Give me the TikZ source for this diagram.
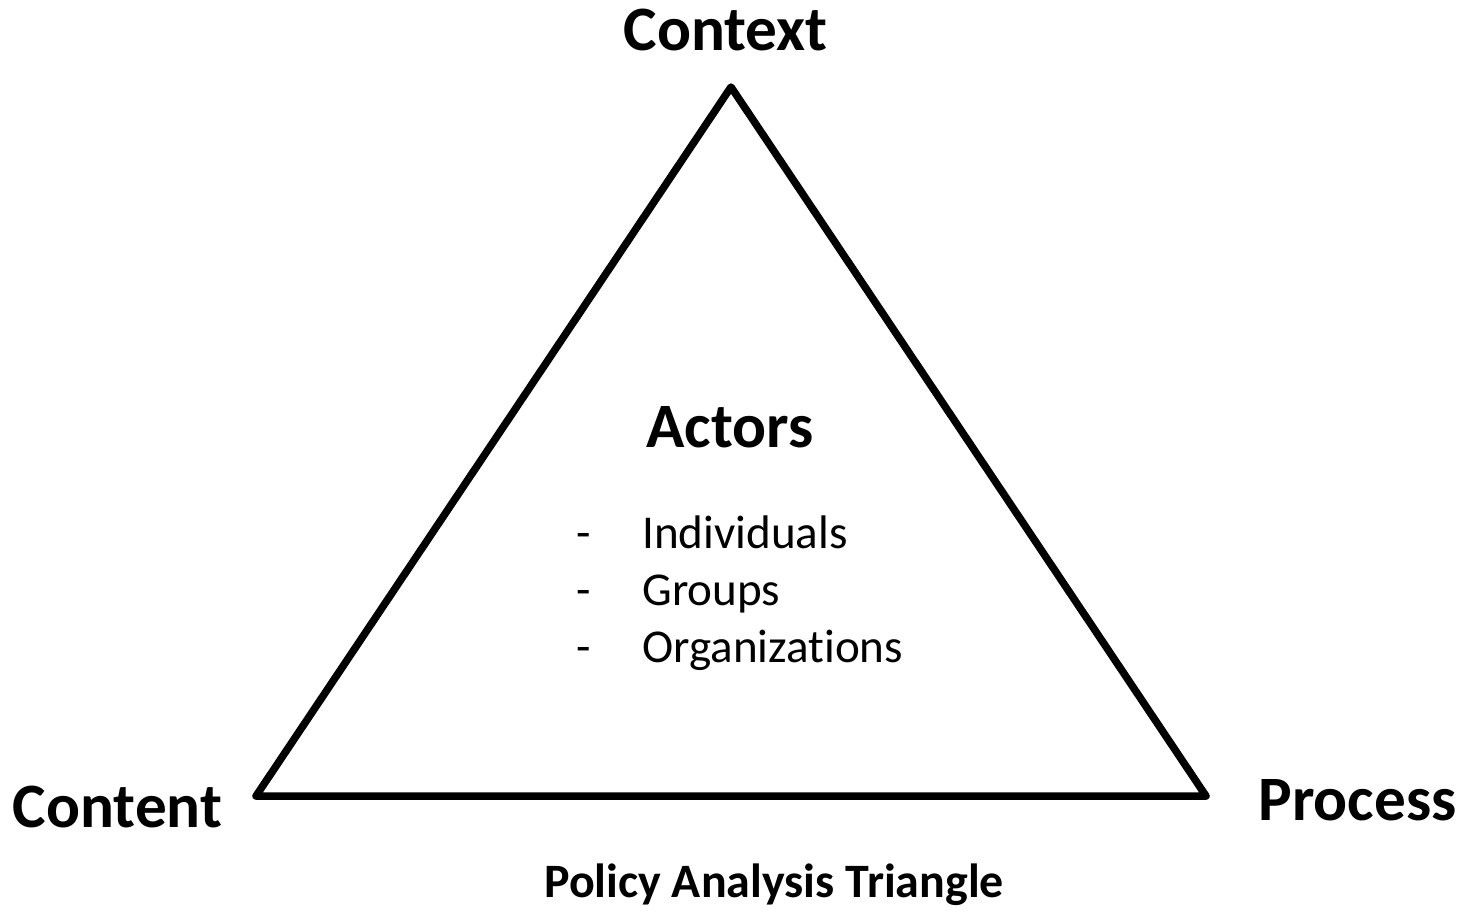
\documentclass[tikz,border=0pt]{standalone}
\usepackage{fontspec}
\setmainfont{Carlito}
\usetikzlibrary{calc}
\tikzset{
LBL/.style = {font=\fontsize{36}{43}\selectfont\bfseries,
        anchor=base,
        inner sep=0pt
            },
ITM/.style = {font=\fontsize{26.8}{32}\selectfont,
        anchor=base west,
        inner sep=0pt
            },
CAP/.style = {font=\fontsize{27.3}{33}\selectfont\bfseries,
        anchor=base,
        inner sep=0pt
            }
        }

\begin{document}
\begin{tikzpicture}[x=0.02cm,y=-0.02cm]

\useasboundingbox (0,0) rectangle (1466,917);

%%% Defining points:

\coordinate (T1) at (731,87);
\coordinate (T2) at (256,796);
\coordinate (T3) at (1206,796);

\draw[
     line width=0.15cm,
     black,
     line join=round,
     ]
     (T1) --
     (T2) --
     (T3) --
     cycle;

%%% Corner labels:

\node[LBL] (ctx) at (725.5,50) {Context};
\node[LBL] (cnt) at (117.5,827) {Content};
\node[LBL] (prc) at (1357.5,820) {Process};

%%% Inside:

\node[LBL] (act) at (730,447) {Actors};

\node[ITM] (d1) at (576,548) {-};
\node[ITM] (d2) at (576,605) {-};
\node[ITM] (d3) at (576,662) {-};

\node[ITM] (i1) at (642,548) {Individuals};
\node[ITM] (i2) at (642,605) {Groups};
\node[ITM] (i3) at (642,662) {Organizat\kern0pt ions};

%%% Caption:

\node[CAP] (cap) at (774,897) {Policy Analysis Triangle};

\end{tikzpicture}
\end{document}
